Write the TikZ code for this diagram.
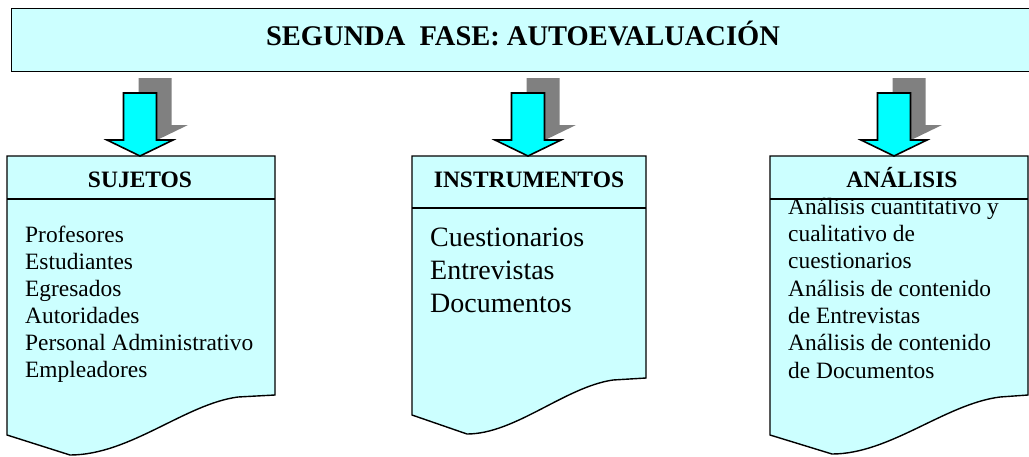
\documentclass[tikz,border=0pt]{standalone}
\usepackage{fontspec}
\setmainfont{Liberation Serif}
\definecolor{boxfill}{HTML}{CCFFFF}
\definecolor{arrowfill}{HTML}{00FFFF}
\definecolor{shadowgray}{HTML}{808080}
\tikzset{
  docbox/.style={draw=black, line width=1.4pt, fill=boxfill, line join=miter},
  sepline/.style={draw=black, line width=1.4pt},
  titletext/.style={font=\bfseries\fontsize{28.5}{32}\selectfont, inner sep=0pt, anchor=base},
  hdr/.style={font=\bfseries\fontsize{23.5}{26}\selectfont, inner sep=0pt, anchor=base},
  body/.style={font=\fontsize{23.4}{27}\selectfont, inner sep=0pt, anchor=base west},
  bigbody/.style={font=\fontsize{28}{33}\selectfont, inner sep=0pt, anchor=base west},
  downarrow/.pic={
    \fill[shadowgray] (-1.5,-78) -- (31.5,-78) -- (31.5,-31) -- (48,-31) -- (15,-15) -- (-1.5,-31) -- cycle;
    \draw[black, line width=1.6pt, fill=arrowfill, line join=miter]
      (0,0) -- (-33,-16) -- (-16.5,-16) -- (-16.5,-63) -- (16.5,-63) -- (16.5,-16) -- (33,-16) -- cycle;
  }
}
\begin{document}
\begin{tikzpicture}[x=1pt,y=-1pt]
\useasboundingbox (0,0) rectangle (1029,456);

% top box
\node[docbox, minimum width=1024pt, minimum height=63pt, anchor=north west, inner sep=0pt] (fase) at (11,8) {};
\node[titletext] (titletxt) at (523,45) {SEGUNDA\ \ FASE: AUTOEVALUACIÓN};

% document boxes
\draw[docbox] (7,156) -- (275,156) -- (275,395) -- (238,397)
  .. controls (185,404) and (130,455) .. (70,455) -- (7,435) -- cycle;
\draw[docbox] (412,156) -- (646,156) -- (646,378) -- (613,380)
  .. controls (565,387) and (515,434) .. (467,434) -- (412,415) -- cycle;
\draw[docbox] (770,156) -- (1028,156) -- (1028,395) -- (1000,397)
  .. controls (945,404) and (890,454) .. (832,454) -- (770,435) -- cycle;

\coordinate (top1) at (140,156);
\coordinate (top2) at (528,156);
\coordinate (top3) at (894,156);

% header separators
\draw[sepline] (7,199) -- (275,199);
\draw[sepline] (412,208) -- (646,208);
\draw[sepline] (770,199) -- (1028,199);

% arrows
\pic at (top1) {downarrow};
\pic at (top2) {downarrow};
\pic at (top3) {downarrow};

% headers
\node[hdr] (h1) at (140,187) {SUJETOS};
\node[hdr] (h2) at (529,187) {INSTRUMENTOS};
\node[hdr] (h3) at (902,187) {ANÁLISIS};

% box 1 text
\node[body] (s1) at (25,242) {Profesores};
\node[body] (s2) at (25,269) {Estudiantes};
\node[body] (s3) at (25,296) {Egresados};
\node[body] (s4) at (25,323) {Autoridades};
\node[body] (s5) at (25,350) {Personal Administrativo};
\node[body] (s6) at (25,377) {Empleadores};

% box 2 text
\node[bigbody] (i1) at (430,246) {Cuestionarios};
\node[bigbody] (i2) at (430,279) {Entrevistas};
\node[bigbody] (i3) at (430,312) {Documentos};

% box 3 text
\node[body] (a1) at (788,214) {Análisis cuantitativo y};
\node[body] (a2) at (788,241) {cualitativo de};
\node[body] (a3) at (788,268) {cuestionarios};
\node[body] (a4) at (788,296) {Análisis de contenido};
\node[body] (a5) at (788,323) {de Entrevistas};
\node[body] (a6) at (788,350) {Análisis de contenido};
\node[body] (a7) at (788,378) {de Documentos};
\end{tikzpicture}
\end{document}
